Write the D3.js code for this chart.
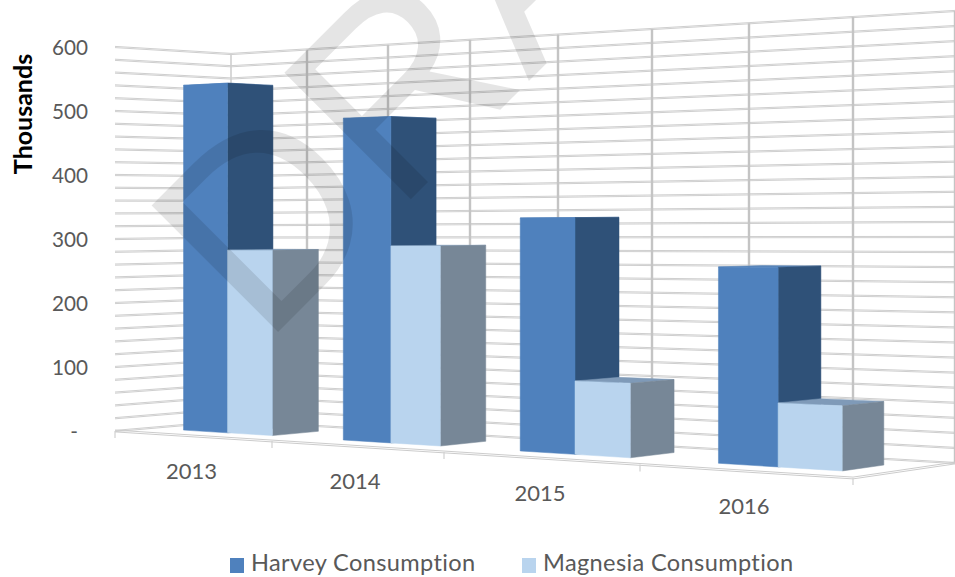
<!DOCTYPE html>
<html><head><meta charset="utf-8">
<style>html,body{margin:0;padding:0;background:#fff;overflow:hidden}svg{display:block}text{font-family:Lato,"Open Sans",sans-serif;font-variant-ligatures:none}</style>
<script src="https://cdn.jsdelivr.net/npm/d3@7/dist/d3.min.js"></script>
</head><body><svg id="c" width="955" height="577"></svg>
<script>
const years = ["2013","2014","2015","2016"];
const harvey = [540,479,329,262];
const magnesia = [282,289,102,84];
const seriesNames = ["Harvey Consumption","Magnesia Consumption"];
const valueTicks = [0,100,200,300,400,500,600];
const gridValues = d3.range(0,601,20);
const halfSteps = d3.range(0,4.01,0.5);
const knots = [0,0.5,1,1.5,2,2.5,3,3.5,3.783,4];

const W=955,H=577;
const svg=d3.select("#c");
const frontX=d3.scaleLinear().domain(knots).range([115,193.5,272,357,444,542,640,746,811,853]);
const backX=d3.scaleLinear().domain(knots).range([231,307,388,470,558,652,749,853,915,955]);
const frontY=d3.scaleLinear().domain([115,853]).range([431,478]);
const backY=d3.scaleLinear().domain([231,955]).range([421,463]);
const frontH=d3.scaleLinear().domain([115,853]).range([384,478]);
const backH=d3.scaleLinear().domain([231,955]).range([367,452]);
const valueFrac=d3.scaleLinear().domain([0,600]).range([0,1]);
const axisY=d3.scaleLinear().domain([0,600]).range([431,47]);
function project(u,d,v){
  const xf=frontX(u),xb=backX(u);
  const x=xf+(xb-xf)*d;
  const yb=frontY(xf)+(backY(xb)-frontY(xf))*d;
  const h=frontH(xf)+(backH(xb)-frontH(xf))*d;
  return [x,yb-h*valueFrac(v)];
}
const line=d3.line();
const grid=svg.append("g");
function doubled(pts,gap,col){
  [-gap/2,gap/2].forEach(o=>{
    grid.append("path").attr("d",line(pts.map(p=>[p[0],p[1]+o]))).attr("fill","none")
      .attr("stroke",col).attr("stroke-width",1);
  });
}
gridValues.forEach(v=>{
  doubled([project(0,0,v),project(0,1,v)],1.2,"#cfcfcf");
  doubled([project(0,1,v),project(4,1,v)],1.2,"#cfcfcf");
});
halfSteps.forEach((u,i)=>{
  const a=project(u,1,0),b=project(u,1,600);
  grid.append("line").attr("x1",a[0]).attr("y1",a[1]).attr("x2",b[0]).attr("y2",b[1])
    .attr("stroke",i===0?"#cfcfcf":"#c4c4c4").attr("stroke-width",i===0?1.6:2.4);
});
doubled([project(0,0,0),project(4,0,0)],1.8,"#cccccc");
doubled([project(4,0,0),project(4,1,0)],1.8,"#cccccc");
[0,1,2,3,4].forEach(u=>{
  const p=project(u,0,0);
  grid.append("line").attr("x1",p[0]).attr("y1",p[1]).attr("x2",p[0]).attr("y2",p[1]+7)
    .attr("stroke","#d0d0d0").attr("stroke-width",1.2);
});
const u0=0.217,um=0.5,u1=0.783,d0=0.3,d1=0.7;
const pal=[{front:"#4f81bd",side:"#2f5178",top:"#5a86ba"},{front:"#b9d4ee",side:"#778797",top:"#7f9ab8"}];
function bar(g,a,b,v,c){
  const poly=(pts,fill)=>g.append("polygon").attr("points",pts.map(p=>p.join(",")).join(" "))
    .attr("fill",fill).attr("stroke",fill).attr("stroke-width",0.5);
  poly([project(a,d1,v),project(b,d1,v),project(b,d0,v),project(a,d0,v)],c.top);
  poly([project(b,d0,0),project(b,d1,0),project(b,d1,v),project(b,d0,v)],c.side);
  poly([project(a,d0,0),project(b,d0,0),project(b,d0,v),project(a,d0,v)],c.front);
}
const bars=svg.append("g");
years.forEach((y,i)=>{
  const g=bars.append("g");
  bar(g,i+u0,i+um,harvey[i],pal[0]);
  bar(g,i+um,i+u1,magnesia[i],pal[1]);
});
svg.append("g").selectAll("text").data(valueTicks).join("text")
  .attr("x",d=>d===0?78:88).attr("y",d=>axisY(d)+1).attr("dy","0.35em").attr("text-anchor","end")
  .attr("font-size",20.7).attr("fill","#595959").text(d=>d===0?"-":d);
svg.append("text").attr("transform","translate(32,114) rotate(-90)").attr("text-anchor","middle")
  .attr("font-size",25).attr("font-weight",700).attr("fill","#000").text("Thousands");
svg.append("g").selectAll("text").data(years).join("text")
  .attr("x",(d,i)=>frontX(i+0.5)-2).attr("y",(d,i)=>frontY(frontX(i+0.5))+35).attr("dy","0.35em")
  .attr("text-anchor","middle").attr("font-size",22).attr("fill","#595959").text(d=>d);
const legendX=[230,522];
const lg=svg.append("g");
seriesNames.forEach((n,i)=>{
  lg.append("rect").attr("x",legendX[i]).attr("y",558).attr("width",14).attr("height",15).attr("fill",pal[i].front);
  lg.append("text").attr("x",legendX[i]+21).attr("y",571).attr("font-size",23.6).attr("letter-spacing",0.35).attr("fill","#595959").text(n);
});
svg.append("text").attr("transform","translate(263,347) rotate(-45)")
  .attr("font-size",260).style("font-family","'Liberation Sans'").attr("fill","#000").attr("fill-opacity",0.1).text("DRAFT");
</script></body></html>
